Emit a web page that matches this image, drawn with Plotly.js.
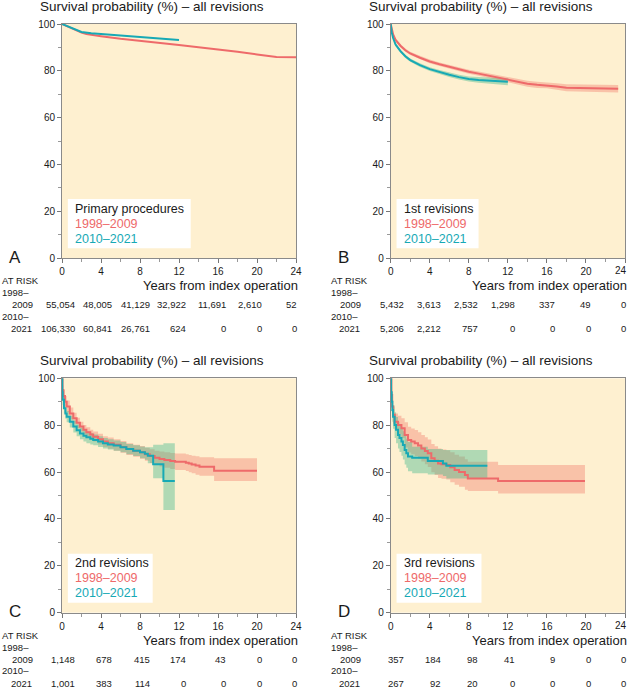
<!DOCTYPE html>
<html><head><meta charset="utf-8">
<script src="https://cdn.plot.ly/plotly-3.0.1.min.js"></script>
<style>html,body{margin:0;padding:0;background:#fff;overflow:hidden}</style>
</head><body><div id="chart" style="width:629px;height:688px"></div>
<script>
// ---------- DATA ----------
const panelLetters = ["A", "B", "C", "D"];
const panelNames = ["Primary procedures", "1st revisions", "2nd revisions", "3rd revisions"];
const periods = ["1998–2009", "2010–2021"];
const xTicks = [0, 4, 8, 12, 16, 20, 24];

// Panel A – primary procedures
const aRedX = [0, 0.5, 1, 1.5, 2, 2.5, 3, 4, 6, 8, 10, 12, 14, 16, 18, 20, 21, 22, 24];
const aRedY = [100, 99, 98, 97.1, 96.3, 95.7, 95.3, 94.8, 93.7, 92.7, 91.8, 91.0, 90.1, 89.2, 88.1, 87.0, 86.4, 85.9, 85.8];
const aTealX = [0, 0.5, 1, 1.5, 2, 3, 4, 6, 8, 10, 12];
const aTealY = [100, 99.1, 98.2, 97.3, 96.6, 96.1, 95.8, 95.0, 94.3, 93.7, 93.2];

// Panel B – 1st revisions
const bRedX = [0, 0.1, 0.25, 0.5, 1, 1.5, 2, 3, 4, 5, 6, 7, 8, 9, 10, 11, 12, 13, 14, 15, 16, 17, 18, 20, 22, 23.3];
const bRedY = [100, 97.5, 95.5, 93.2, 90.7, 88.8, 87.4, 85.6, 84.0, 82.8, 81.7, 80.6, 79.6, 78.8, 77.9, 77.0, 76.2, 75.4, 74.5, 74.0, 73.8, 73.3, 72.8, 72.6, 72.4, 72.3];
const bRedUp = [100, 98, 96, 93.9, 91.4, 89.5, 88.1, 86.4, 84.8, 83.6, 82.5, 81.5, 80.5, 79.7, 78.9, 78.1, 77.3, 76.6, 75.8, 75.3, 75.1, 74.7, 74.3, 74.1, 74.0, 73.9];
const bRedLo = [100, 97, 95, 92.5, 90, 88.1, 86.7, 84.8, 83.2, 82, 80.9, 79.7, 78.7, 77.9, 76.9, 75.9, 75.1, 74.2, 73.2, 72.7, 72.5, 71.9, 71.3, 71.1, 70.8, 70.7];
const bTealX = [0, 0.1, 0.25, 0.5, 1, 1.5, 2, 3, 4, 5, 6, 7, 8, 9, 10, 11, 12];
const bTealY = [100, 96.5, 94, 91.2, 88.4, 86.2, 84.6, 82.4, 80.7, 79.4, 78.3, 77.3, 76.5, 76.1, 75.8, 75.5, 75.3];
const bTealUp = [100, 97, 94.6, 91.9, 89.1, 86.9, 85.3, 83.2, 81.5, 80.3, 79.2, 78.3, 77.6, 77.3, 77.1, 76.9, 76.8];
const bTealLo = [100, 96, 93.4, 90.5, 87.7, 85.5, 83.9, 81.6, 79.9, 78.5, 77.4, 76.3, 75.4, 74.9, 74.5, 74.1, 73.8];

// Panel C – 2nd revisions
const cRedX = [0, 0.05, 0.14, 0.3, 0.48, 0.8, 1.16, 1.5, 1.84, 2.2, 2.5, 2.9, 3.2, 3.7, 4.2, 4.7, 5.3, 6.0, 6.6, 7.3, 8.0, 8.5, 9.0, 9.5, 10.0, 10.5, 11.1, 11.6, 12.7, 13.0, 13.3, 13.7, 14.1, 15.6, 20.0];
const cRedY = [100, 95, 92.5, 90, 88, 85, 83, 81, 79.4, 78, 77, 76, 75.1, 74, 73, 72.3, 71.6, 70.7, 69.8, 69.1, 68.4, 67.6, 66.8, 66.1, 65.6, 65.1, 64.7, 64.4, 64.0, 63.6, 63.2, 62.8, 62.3, 60.6, 60.6];
const cRedUp = [100, 97, 95, 92.5, 90.5, 87.5, 85.3, 83.2, 81.5, 80.1, 79.1, 78.1, 77.3, 76.3, 75.3, 74.7, 74, 73.2, 72.3, 71.7, 71.1, 70.4, 69.7, 69.1, 68.8, 68.4, 68.1, 67.9, 67.6, 67.3, 67, 66.7, 66.3, 65.9, 65.9];
const cRedLo = [100, 93, 90, 87.5, 85.5, 82.5, 80.7, 78.8, 77.3, 75.9, 74.9, 73.9, 73, 71.8, 70.7, 69.9, 69.1, 68.2, 67.3, 66.5, 65.7, 64.8, 63.9, 63.1, 62.4, 61.8, 61.3, 60.9, 60.4, 59.9, 59.5, 58.9, 58.4, 56.2, 56.2];
const cTealX = [0, 0.03, 0.07, 0.2, 0.35, 0.48, 0.8, 1.16, 1.5, 1.84, 2.2, 2.5, 2.9, 3.2, 3.7, 4.2, 4.7, 5.3, 6.0, 6.6, 7.3, 8.0, 8.5, 8.8, 9.35, 10.4, 11.57];
const cTealY = [100, 94, 90.8, 87.2, 85, 83.6, 81.5, 79.4, 77.8, 76.5, 75.5, 74.8, 74.2, 73.7, 73, 72.3, 71.8, 71.3, 70.6, 69.8, 69.1, 68.4, 67.8, 67.0, 63.3, 56.2, 56.2];
const cTealUp = [100, 96, 93, 89.5, 87.3, 86, 84, 81.9, 80.3, 79, 78, 77.3, 76.6, 76, 75.3, 74.5, 74, 73.5, 72.8, 72, 71.4, 70.9, 70.6, 70.6, 71.6, 72.3, 72.3];
const cTealLo = [100, 92, 88.6, 85, 82.7, 81.2, 79, 76.9, 75.3, 74, 73, 72.3, 71.8, 71.4, 70.7, 70.1, 69.6, 69.1, 68.4, 67.6, 66.8, 65.9, 65.2, 63.8, 57.4, 43.8, 43.8];

// Panel D – 3rd revisions
const dRedX = [0, 0.07, 0.15, 0.24, 0.41, 0.75, 1.1, 1.43, 1.77, 2.1, 2.46, 2.8, 3.14, 3.5, 3.8, 4.16, 4.5, 4.85, 5.2, 5.7, 6.1, 6.55, 7.0, 7.6, 7.9, 11.0, 19.9];
const dRedY = [100, 92.9, 88, 84.4, 81.5, 80.1, 78.7, 75.8, 73.7, 73, 72.3, 71.3, 70.1, 69, 68, 65.9, 64.8, 63.7, 63.3, 63, 62, 60.9, 60, 58.7, 57.3, 56.2, 56.2];
const dRedUp = [100, 96, 92, 88, 85, 84, 83, 81.3, 79.3, 78.6, 77.9, 77, 75.8, 74.8, 73.9, 72, 71, 70, 69.6, 69.3, 68.4, 67.4, 66.6, 65.5, 64.4, 63, 63];
const dRedLo = [100, 89.5, 84, 80.5, 78, 76.2, 74.5, 70.5, 68.3, 67.6, 66.8, 65.7, 64.5, 63.3, 62.2, 59.9, 58.7, 57.5, 57.1, 56.8, 55.7, 54.6, 53.7, 52.4, 51.9, 50.9, 50.9];
const dTealX = [0, 0.04, 0.1, 0.17, 0.24, 0.4, 0.55, 0.75, 0.9, 1.1, 1.25, 1.43, 1.6, 1.77, 2.2, 3.8, 5.35, 5.7, 9.9];
const dTealY = [100, 94, 90, 86.5, 83.6, 80.1, 78, 75.8, 74.5, 73, 71.5, 69.4, 68, 66.6, 66.1, 64.7, 63.7, 62.7, 62.7];
const dTealUp = [100, 97, 94, 91, 88.5, 85.5, 83.5, 81.5, 80.2, 78.8, 77.4, 75.5, 74.2, 72.8, 70.8, 69.8, 69.4, 69.4, 69.4];
const dTealLo = [100, 90, 85.5, 81.5, 78.5, 74.5, 72.3, 70, 68.6, 67, 65.4, 63.2, 61.8, 60.3, 59.5, 59, 58.3, 57.3, 57.3];

// Numbers at risk
const atRiskA1 = [55054, 48005, 41129, 32922, 11691, 2610, 52];
const atRiskA2 = [106330, 60841, 26761, 624, 0, 0, 0];
const atRiskB1 = [5432, 3613, 2532, 1298, 337, 49, 0];
const atRiskB2 = [5206, 2212, 757, 0, 0, 0, 0];
const atRiskC1 = [1148, 678, 415, 174, 43, 0, 0];
const atRiskC2 = [1001, 383, 114, 0, 0, 0, 0];
const atRiskD1 = [357, 184, 98, 41, 9, 0, 0];
const atRiskD2 = [267, 92, 20, 0, 0, 0, 0];

// ---------- STYLE / LAYOUT ----------
const W = 629, H = 688;
const FONT = "Liberation Sans, Arial, Helvetica, sans-serif";
const RED = "#EE6A6A", TEAL = "#17A9B5";
const RED_BAND = "rgba(242,110,95,0.35)", TEAL_BAND = "rgba(70,185,140,0.42)";
const BG = "#FEF0D0";

const boxes = [
  {l: 62, r: 296, t: 24, b: 258},
  {l: 390.7, r: 625, t: 24, b: 258},
  {l: 62, r: 296, t: 378.3, b: 612.7},
  {l: 390.7, r: 625, t: 378.3, b: 612.7}
];
const px = v => v / W, py = v => 1 - v / H;

const panels = [
  {red: {x: aRedX, y: aRedY}, teal: {x: aTealX, y: aTealY}, shape: "linear", r1: atRiskA1, r2: atRiskA2},
  {red: {x: bRedX, y: bRedY, up: bRedUp, lo: bRedLo}, teal: {x: bTealX, y: bTealY, up: bTealUp, lo: bTealLo}, shape: "linear", r1: atRiskB1, r2: atRiskB2},
  {red: {x: cRedX, y: cRedY, up: cRedUp, lo: cRedLo}, teal: {x: cTealX, y: cTealY, up: cTealUp, lo: cTealLo}, shape: "hv", r1: atRiskC1, r2: atRiskC2},
  {red: {x: dRedX, y: dRedY, up: dRedUp, lo: dRedLo}, teal: {x: dTealX, y: dTealY, up: dTealUp, lo: dTealLo}, shape: "hv", r1: atRiskD1, r2: atRiskD2}
];
const legendRight = [13.2, 9.0, 9.3, 9.3];
const colOffsets = [15, 52, 89.5, 126, 166, 202, 237];

const traces = [];
const layout = {
  width: W, height: H, margin: {l: 0, r: 0, t: 0, b: 0},
  paper_bgcolor: "#ffffff", plot_bgcolor: BG, showlegend: false,
  font: {family: FONT, size: 10, color: "#1a1a1a"},
  annotations: [], shapes: []
};

function band(s, color, xa, ya, shape) {
  if (!s.up) return;
  traces.push({x: s.x, y: s.up, xaxis: xa, yaxis: ya, mode: "lines", line: {width: 0, shape: shape}, hoverinfo: "skip"});
  traces.push({x: s.x, y: s.lo, xaxis: xa, yaxis: ya, mode: "lines", line: {width: 0, shape: shape}, fill: "tonexty", fillcolor: color, hoverinfo: "skip"});
}

panels.forEach((p, i) => {
  const n = i + 1, sfx = n === 1 ? "" : String(n);
  const xa = "x" + sfx, ya = "y" + sfx;
  const bx = boxes[i];
  const edge = bx.r > W - 10; // right-column panels: last tick label sits at the window edge
  const tickText = xTicks.map((t, k) => (edge && k === xTicks.length - 1) ? "" : String(t));
  layout["xaxis" + sfx] = {
    domain: [px(bx.l), px(bx.r)], anchor: ya, range: [0, 24], tickvals: xTicks, ticktext: tickText,
    ticks: "outside", ticklen: 4, tickwidth: 1, tickcolor: "#777",
    minor: {dtick: 2, ticks: "outside", ticklen: 3, tickcolor: "#999", showgrid: false},
    showline: true, linecolor: "#8a8a8a", linewidth: 1, mirror: true, showgrid: false, zeroline: false,
    tickfont: {family: FONT, size: 10, color: "#1a1a1a"}, fixedrange: true
  };
  layout["yaxis" + sfx] = {
    domain: [py(bx.b), py(bx.t)], anchor: xa, range: [0, 100], dtick: 20,
    ticks: "outside", ticklen: 4, tickwidth: 1, tickcolor: "#777",
    minor: {dtick: 10, ticks: "outside", ticklen: 3, tickcolor: "#999", showgrid: false},
    showline: true, linecolor: "#8a8a8a", linewidth: 1, mirror: true, showgrid: false, zeroline: false,
    tickfont: {family: FONT, size: 10, color: "#1a1a1a"}, fixedrange: true
  };
  if (edge) {
    layout.annotations.push({xref: "paper", yref: "paper", x: px(W - 0.5), y: py(bx.b + 13), xanchor: "right", yanchor: "middle",
      text: String(xTicks[xTicks.length - 1]), showarrow: false, font: {family: FONT, size: 10, color: "#1a1a1a"}});
  }
  band(p.red, RED_BAND, xa, ya, p.shape);
  band(p.teal, TEAL_BAND, xa, ya, p.shape);
  traces.push({x: p.red.x, y: p.red.y, xaxis: xa, yaxis: ya, mode: "lines", line: {color: RED, width: 2, shape: p.shape}, hoverinfo: "skip"});
  traces.push({x: p.teal.x, y: p.teal.y, xaxis: xa, yaxis: ya, mode: "lines", line: {color: TEAL, width: 2, shape: p.shape}, hoverinfo: "skip"});

  // legend box
  layout.shapes.push({type: "rect", xref: xa, yref: ya, x0: 0.6, x1: legendRight[i], y0: 4.2, y1: 25.2, fillcolor: "#ffffff", line: {width: 0}, layer: "above"});
  const legTexts = [[panelNames[i], "#1a1a1a", 21], [periods[0], RED, 14.6], [periods[1], TEAL, 8.2]];
  legTexts.forEach(([t, c, yv]) => layout.annotations.push({
    xref: xa, yref: ya, x: 1.15, y: yv, xanchor: "left", yanchor: "middle", text: t, showarrow: false,
    font: {family: FONT, size: 12.5, color: c}
  }));

  // panel title
  layout.annotations.push({xref: "paper", yref: "paper", x: px(bx.l - 24), y: py(bx.t - 17.5), xanchor: "left", yanchor: "middle",
    text: "Survival probability (%) – all revisions", showarrow: false, font: {family: FONT, size: 13.5, color: "#1a1a1a"}});
  // panel letter
  layout.annotations.push({xref: "paper", yref: "paper", x: px(bx.l - 47), y: py(bx.b - 1), xanchor: "center", yanchor: "middle",
    text: panelLetters[i], showarrow: false, font: {family: FONT, size: 17, color: "#1a1a1a"}});
  // x axis title
  layout.annotations.push({xref: "paper", yref: "paper", x: px(Math.min(bx.r + 4, W - 0.5)), y: py(bx.b + 27.7), xanchor: "right", yanchor: "middle",
    text: "Years from index operation", showarrow: false, font: {family: FONT, size: 13, color: "#1a1a1a"}});
  // at-risk labels
  const lab = (t, xx, yy, anchor) => layout.annotations.push({xref: "paper", yref: "paper", x: px(xx), y: py(yy), xanchor: anchor, yanchor: "middle",
    text: t, showarrow: false, font: {family: FONT, size: 9.5, color: "#1a1a1a"}});
  lab("AT RISK", bx.l - 62, bx.b + 23, "left");
  lab("1998–", bx.l - 62, bx.b + 34.5, "left");
  lab("2009", bx.l - 27.5, bx.b + 46.3, "right");
  lab("2010–", bx.l - 62, bx.b + 58.2, "left");
  lab("2021", bx.l - 28.5, bx.b + 70.5, "right");
  p.r1.forEach((v, k) => lab(v.toLocaleString("en-US"), bx.l + colOffsets[k], bx.b + 46.3, "right"));
  p.r2.forEach((v, k) => lab(v.toLocaleString("en-US"), bx.l + colOffsets[k], bx.b + 70.5, "right"));
});

Plotly.newPlot("chart", traces, layout, {staticPlot: true, displayModeBar: false});
</script></body></html>
